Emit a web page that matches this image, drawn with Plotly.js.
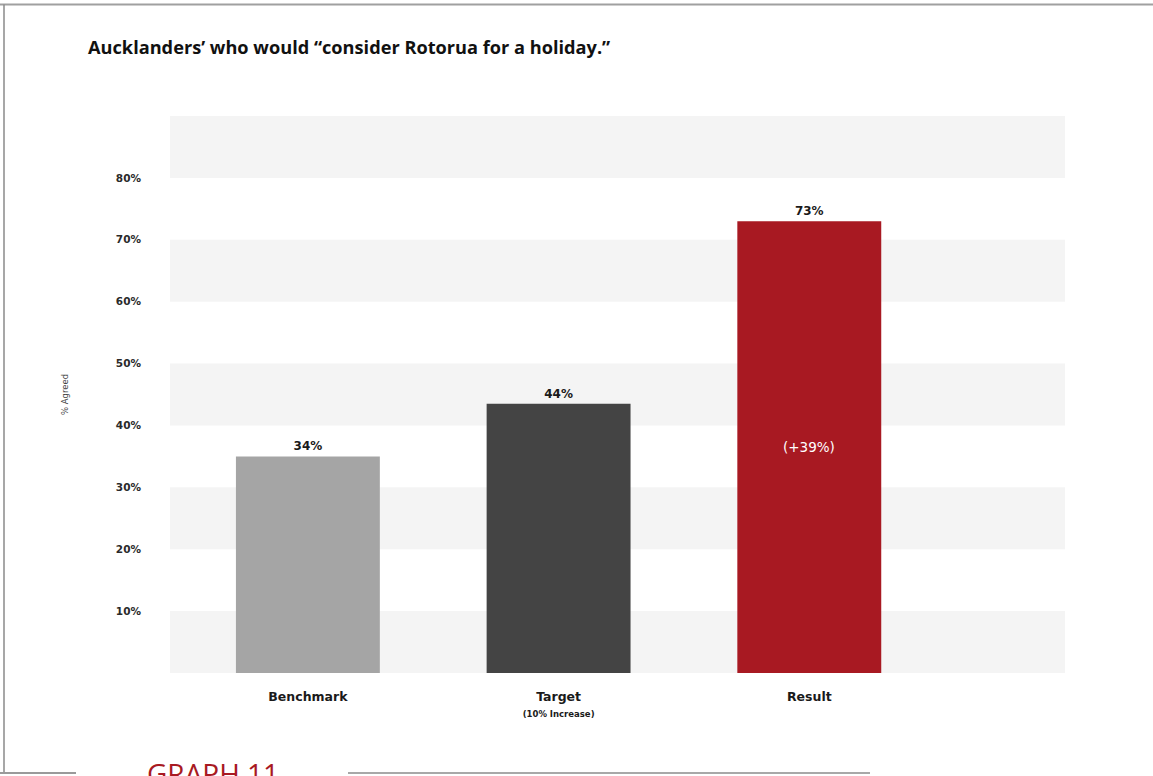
<!DOCTYPE html>
<html>
<head>
<meta charset="utf-8">
<script src="https://cdn.plot.ly/plotly-3.0.1.min.js"></script>
<style>html,body{margin:0;padding:0;background:#fff;}#chart{width:1153px;height:776px;}</style>
</head>
<body>
<div id="chart"></div>
<script>
// ---- data ----
const categories = ["Benchmark", "Target", "Result"];
const categoryLabels = ["Benchmark", "Target<br><span style='font-size:8.5px'>(10% Increase)</span>", "Result"];
const values = [35, 43.5, 73];
const valueLabels = ["34%", "44%", "73%"];
const barColors = ["#a5a5a5", "#444444", "#a81922"];
const insideNote = "(+39%)";
const tickValues = [10, 20, 30, 40, 50, 60, 70, 80];
const tickLabels = ["10%", "20%", "30%", "40%", "50%", "60%", "70%", "80%"];
const bandStarts = [0, 20, 40, 60, 80];

// ---- layout helpers ----
const W = 1153, H = 776, L = 170, R = 88, T = 116, B = 103;
const pw = W - L - R, ph = H - T - B;
const px = v => (v - L) / pw;
const py = v => (H - B - v) / ph;
const FONT = "'DejaVu Sans', sans-serif";

const shapes = bandStarts.map(s => ({
  type: "rect", xref: "paper", yref: "y", x0: 0, x1: 1, y0: s, y1: s + 10,
  fillcolor: "#f4f4f4", line: {width: 0}, layer: "below"
}));
// document frame
shapes.push({type: "line", xref: "paper", yref: "paper", x0: px(0), x1: px(W), y0: py(4.5), y1: py(4.5), line: {color: "#a0a0a0", width: 2}});
shapes.push({type: "line", xref: "paper", yref: "paper", x0: px(4), x1: px(4), y0: py(4.5), y1: py(773), line: {color: "#8a8a8a", width: 1.5}});
shapes.push({type: "line", xref: "paper", yref: "paper", x0: px(0), x1: px(76), y0: py(773), y1: py(773), line: {color: "#9a9a9a", width: 2}});
shapes.push({type: "line", xref: "paper", yref: "paper", x0: px(348), x1: px(870), y0: py(773), y1: py(773), line: {color: "#a8a8a8", width: 2}});

const trace = {
  type: "bar",
  x: categories,
  y: values,
  marker: {color: barColors, line: {width: 0}},
  text: valueLabels,
  textposition: "outside",
  cliponaxis: false,
  textfont: {family: FONT, size: 12, color: "#1a1a1a", weight: 700},
  hoverinfo: "skip"
};

const layout = {
  width: W, height: H,
  margin: {l: L, r: R, t: T, b: B},
  paper_bgcolor: "#ffffff",
  plot_bgcolor: "#ffffff",
  showlegend: false,
  bargap: 0.426,
  title: {
    text: "<b>Aucklanders’ who would “consider Rotorua for a holiday.”</b>",
    x: 88 / W, xanchor: "left", xref: "container",
    y: 1 - 48 / H, yanchor: "middle", yref: "container",
    font: {family: "'Open Sans', sans-serif", size: 18.2, color: "#111111"}
  },
  xaxis: {
    type: "category",
    range: [-0.55, 3.02],
    tickvals: categories,
    ticktext: categoryLabels,
    showgrid: false, zeroline: false, showline: false, ticks: "",
    ticklabelstandoff: 14,
    tickfont: {family: FONT, size: 12.5, color: "#1a1a1a", weight: 700},
    fixedrange: true
  },
  yaxis: {
    range: [0, 90],
    tickvals: tickValues,
    ticktext: tickLabels,
    showgrid: false, zeroline: false, showline: false, ticks: "",
    ticklabelstandoff: 28,
    tickfont: {family: FONT, size: 10.5, color: "#2a2a2a", weight: 700},
    title: {text: "% Agreed", standoff: 45, font: {family: FONT, size: 8.5, color: "#444444"}},
    fixedrange: true
  },
  shapes: shapes,
  annotations: [
    {x: categories[2], y: values[2] / 2, xref: "x", yref: "y", text: insideNote, showarrow: false,
     font: {family: FONT, size: 13.5, color: "#ffffff"}},
    {x: px(145), y: py(752), xref: "paper", yref: "paper", xanchor: "left", yanchor: "top",
     text: "GRAPH 11", showarrow: false,
     font: {family: "'Open Sans', sans-serif", size: 28, color: "#a81922"}}
  ]
};

Plotly.newPlot("chart", [trace], layout, {displayModeBar: false, staticPlot: true});
</script>
</body>
</html>
